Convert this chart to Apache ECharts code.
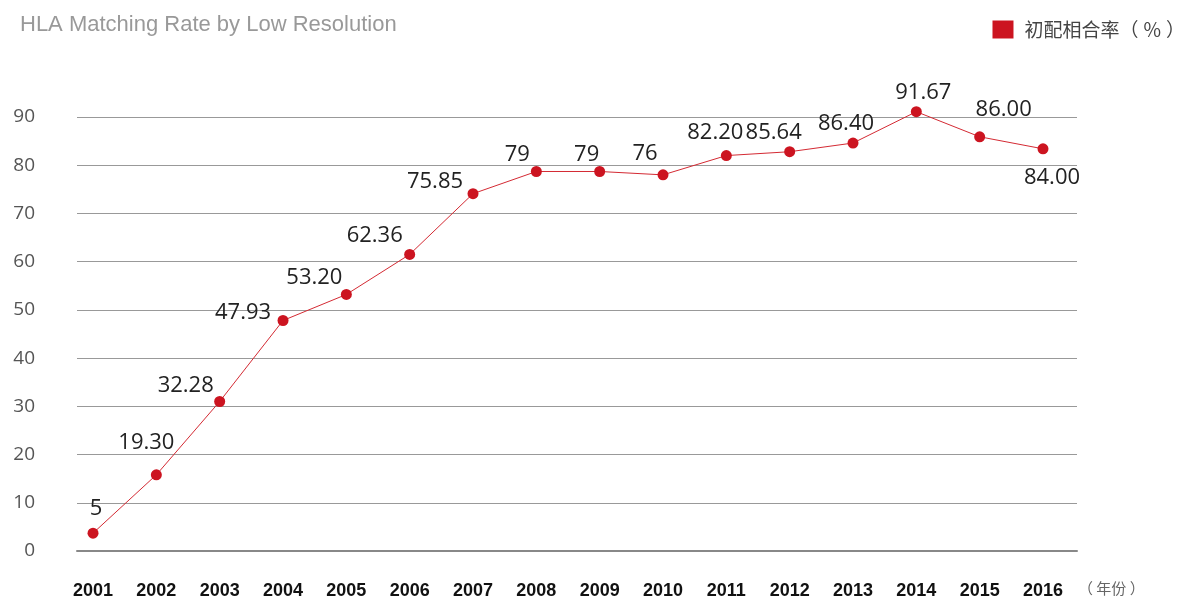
<!DOCTYPE html>
<html>
<head>
<meta charset="utf-8">
<script src="https://cdn.jsdelivr.net/npm/echarts@6/dist/echarts.min.js"></script>
<style>html,body{margin:0;padding:0;background:#fff;}#c{width:1190px;height:600px;}</style>
</head>
<body>
<div id="c"></div>
<script>
const years = [2001,2002,2003,2004,2005,2006,2007,2008,2009,2010,2011,2012,2013,2014,2015,2016];
const values = [3.7,15.8,31.0,47.8,53.2,61.5,74.1,78.7,78.7,78.0,82.0,82.8,84.6,91.1,85.9,83.4];
const labels = ['5','19.30','32.28','47.93','53.20','62.36','75.85','79','79','76','82.20','85.64','86.40','91.67','86.00','84.00'];
const yTicks = [0,10,20,30,40,50,60,70,80,90];

// label placement (layout, not data)
const labelOffsets = [[3,-24],[-10,-32],[-34,-16],[-40,-8],[-32,-17],[-35,-19],[-38,-12],[-19,-17],[-13,-17],[-18,-21],[-11,-23],[-16,-19],[-7,-19],[7,-19],[24,-27],[9,29]];

const seriesData = years.map((y, i) => ({
  value: [y, values[i]],
  label: { offset: labelOffsets[i] }
}));

const chart = echarts.init(document.getElementById('c'));
chart.setOption({
  animation: false,
  backgroundColor: '#fff',
  title: {
    text: 'HLA Matching Rate by Low Resolution',
    left: 15, top: 9,
    textStyle: { color: '#999', fontSize: 22, fontWeight: 'normal', fontFamily: '"Liberation Sans Narrow","Liberation Sans",Arial,sans-serif' }
  },
  legend: {
    right: 0, top: 15,
    icon: 'rect', itemWidth: 21, itemHeight: 18, itemGap: 10,
    textStyle: { color: '#444', fontSize: 19, fontFamily: '"Noto Sans CJK SC",sans-serif', padding: [0,0,0,6] },
    data: ['初配相合率（ ％ ）']
  },
  grid: { left: 77, right: 113, top: 117, bottom: 48, containLabel: false },
  xAxis: {
    type: 'value',
    min: 2000.747, max: 2016.537,
    axisLine: { show: true, onZero: false, lineStyle: { color: '#888', width: 2 } },
    axisTick: { show: false },
    splitLine: { show: false },
    axisLabel: {
      customValues: years,
      formatter: v => String(v),
      color: '#111', fontSize: 18, fontWeight: 'bold', margin: 31,
      fontFamily: '"Liberation Sans",Arial,sans-serif'
    }
  },
  yAxis: {
    type: 'value', min: 0, max: 90, interval: 10,
    axisLine: { show: false }, axisTick: { show: false },
    splitLine: { lineStyle: { color: '#999', width: 1 } },
    axisLabel: {
      customValues: yTicks,
      color: '#555', fontSize: 19, margin: 42,
      fontFamily: '"Open Sans",sans-serif'
    }
  },
  graphic: [{
    type: 'text', left: 1078, top: 581,
    style: { text: '（ 年份 ）', fill: '#666', fontSize: 15, fontFamily: '"Noto Sans CJK SC",sans-serif' }
  }],
  series: [{
    name: '初配相合率（ ％ ）',
    type: 'line',
    clip: false,
    data: seriesData,
    symbol: 'circle', symbolSize: 11,
    itemStyle: { color: '#cc1420' },
    lineStyle: { color: '#d42a33', width: 1 },
    label: {
      show: true, position: 'inside',
      formatter: p => labels[p.dataIndex],
      color: '#222', fontSize: 22,
      fontFamily: '"Open Sans",sans-serif'
    }
  }]
});
</script>
</body>
</html>
